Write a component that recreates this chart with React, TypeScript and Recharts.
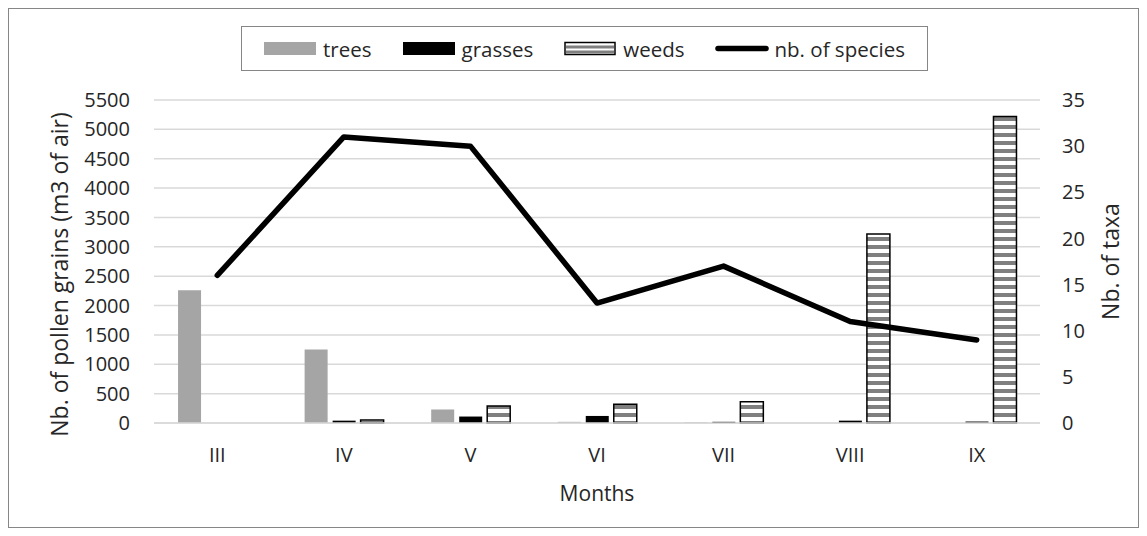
import React from 'react';
import {
  Bar,
  CartesianGrid,
  ComposedChart,
  Legend,
  Line,
  XAxis,
  YAxis,
} from 'recharts';

// values
const months = ['III', 'IV', 'V', 'VI', 'VII', 'VIII', 'IX'];
const trees = [2260, 1250, 230, 20, 10, 0, 0];
const grasses = [0, 40, 110, 120, 20, 40, 25];
const weeds = [0, 50, 290, 320, 360, 3220, 5220];
const species = [16, 31, 30, 13, 17, 11, 9];

const leftTicks = [0, 500, 1000, 1500, 2000, 2500, 3000, 3500, 4000, 4500, 5000, 5500];
const rightTicks = [0, 5, 10, 15, 20, 25, 30, 35];

const data = months.map((m, i) => ({
  month: m,
  trees: trees[i],
  grasses: grasses[i],
  weeds: weeds[i],
  species: species[i],
}));

const FONT = '"Open Sans", sans-serif';
const TEXT = '#262626';
const tickStyle = { fontSize: 20, fill: TEXT, fontFamily: FONT };

const LeftTitle = (props: any) => {
  const vb = props.viewBox || {};
  const cx = vb.x + 50;
  const cy = vb.y + vb.height / 2 + 13;
  return (
    <text x={cx} y={cy} transform={`rotate(-90, ${cx}, ${cy})`} textAnchor="middle"
      dominantBaseline="central" fontSize={23} fill={TEXT} fontFamily={FONT}>
      Nb. of pollen grains (m3 of air)
    </text>
  );
};

const RightTitle = (props: any) => {
  const vb = props.viewBox || {};
  const cx = vb.x + 70;
  const cy = vb.y + vb.height / 2;
  return (
    <text x={cx} y={cy} transform={`rotate(-90, ${cx}, ${cy})`} textAnchor="middle"
      dominantBaseline="central" fontSize={23} fill={TEXT} fontFamily={FONT}>
      Nb. of taxa
    </text>
  );
};

const BottomTitle = (props: any) => {
  const vb = props.viewBox || {};
  return (
    <text x={vb.x + vb.width / 2} y={vb.y + 70} textAnchor="middle" dominantBaseline="central"
      fontSize={21} fill={TEXT} fontFamily={FONT}>
      Months
    </text>
  );
};

const Swatch = ({ kind }: { kind: string }) => (
  <svg width={54} height={15} style={{ marginRight: 5, display: 'block' }}>
    {kind === 'trees' && <rect x={0} y={1} width={52} height={13} fill="#a5a5a5" />}
    {kind === 'grasses' && <rect x={0} y={1} width={52} height={13} fill="#000" />}
    {kind === 'weeds' && (
      <g>
        <rect x={1} y={1.5} width={50} height={12} fill="#fff" stroke="#000" strokeWidth={1.5} />
        <rect x={2} y={4.5} width={48} height={3} fill="#7f7f7f" />
        <rect x={2} y={9.5} width={48} height={3} fill="#7f7f7f" />
      </g>
    )}
    {kind === 'species' && (
      <line x1={3} x2={51} y1={7.5} y2={7.5} stroke="#000" strokeWidth={5.5} strokeLinecap="round" />
    )}
  </svg>
);

const legendItems = [
  { key: 'trees', label: 'trees' },
  { key: 'grasses', label: 'grasses' },
  { key: 'weeds', label: 'weeds' },
  { key: 'species', label: 'nb. of species' },
];

const LegendBox = () => (
  <div
    style={{
      boxSizing: 'border-box',
      width: 687,
      height: 45,
      border: '1px solid #868686',
      display: 'flex',
      alignItems: 'center',
      justifyContent: 'center',
      fontFamily: FONT,
      fontSize: 20.5,
      color: TEXT,
      background: '#fff',
    }}
  >
    {legendItems.map((it, i) => (
      <div key={it.key} style={{ display: 'flex', alignItems: 'center', marginLeft: i === 0 ? 0 : 31 }}>
        <Swatch kind={it.key} />
        <span style={{ lineHeight: '20px' }}>{it.label}</span>
      </div>
    ))}
  </div>
);

export default function App() {
  return (
    <div
      style={{
        width: 1131,
        height: 520,
        border: '1px solid #868686',
        boxSizing: 'border-box',
        background: '#fff',
        position: 'relative',
      }}
    >
      <ComposedChart
        width={1129}
        height={518}
        data={data}
        margin={{ top: 91, right: 0, bottom: 0, left: 0 }}
        barCategoryGap="19%"
        barGap={5}
      >
        <defs>
          <pattern id="weedsStripes" width={8} height={8} patternUnits="userSpaceOnUse">
            <rect width={8} height={8} fill="#fff" />
            <rect y={4} width={8} height={4} fill="#7f7f7f" />
          </pattern>
        </defs>
        <CartesianGrid yAxisId="left" vertical={false} stroke="#d9d9d9" strokeWidth={1.5} />
        <XAxis
          dataKey="month"
          height={104}
          axisLine={{ stroke: '#d9d9d9', strokeWidth: 1.5 }}
          tickLine={false}
          tick={tickStyle}
          tickMargin={19}
          label={<BottomTitle />}
        />
        <YAxis
          yAxisId="left"
          width={145}
          domain={[0, 5500]}
          ticks={leftTicks}
          interval={0}
          axisLine={false}
          tickLine={false}
          tick={tickStyle}
          tickMargin={18}
          label={<LeftTitle />}
        />
        <YAxis
          yAxisId="right"
          orientation="right"
          width={98}
          domain={[0, 35]}
          ticks={rightTicks}
          interval={0}
          axisLine={false}
          tickLine={false}
          tick={{ ...tickStyle, textAnchor: 'start' }}
          tickMargin={16}
          label={<RightTitle />}
        />
        <Legend
          layout="horizontal"
          verticalAlign="middle"
          align="center"
          wrapperStyle={{ top: 17, left: 232, width: 687, height: 45 }}
          content={() => <LegendBox />}
        />
        <Bar yAxisId="left" dataKey="trees" fill="#a5a5a5" isAnimationActive={false} />
        <Bar yAxisId="left" dataKey="grasses" fill="#000" isAnimationActive={false} />
        <Bar
          yAxisId="left"
          dataKey="weeds"
          fill="url(#weedsStripes)"
          stroke="#000"
          strokeWidth={1.5}
          isAnimationActive={false}
        />
        <Line
          yAxisId="right"
          type="linear"
          dataKey="species"
          stroke="#000"
          strokeWidth={5.5}
          strokeLinecap="round"
          strokeLinejoin="round"
          dot={false}
          activeDot={false}
          isAnimationActive={false}
        />
      </ComposedChart>
    </div>
  );
}
